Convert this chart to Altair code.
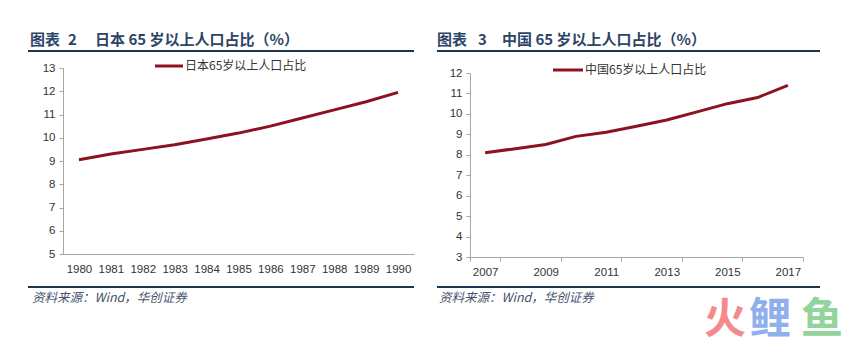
import altair as alt
import pandas as pd

# ---- data ----
jp_years = [1980, 1981, 1982, 1983, 1984, 1985, 1986, 1987, 1988, 1989, 1990]
jp_vals = [9.05, 9.3, 9.5, 9.7, 9.95, 10.2, 10.5, 10.85, 11.2, 11.55, 11.95]
cn_years = [2007, 2008, 2009, 2010, 2011, 2012, 2013, 2014, 2015, 2016, 2017]
cn_vals = [8.1, 8.3, 8.5, 8.9, 9.1, 9.4, 9.7, 10.1, 10.5, 10.8, 11.4]

jp_yticks = [5, 6, 7, 8, 9, 10, 11, 12, 13]
cn_yticks = [3, 4, 5, 6, 7, 8, 9, 10, 11, 12]
cn_xlabels = [2007, 2009, 2011, 2013, 2015, 2017]

title_prefix = "图表"
jp_fig_no = "2"
cn_fig_no = "3"
jp_title = "日本 65 岁以上人口占比（%）"
cn_title = "中国 65 岁以上人口占比（%）"
jp_legend = "日本65岁以上人口占比"
cn_legend = "中国65岁以上人口占比"
source_text = "资料来源：Wind，华创证券"
watermark = ["火", "鲤", "鱼"]
watermark_colors = ["#f48a8c", "#8fb0ec", "#92d49c"]

LINE = "#8c1220"
FONT = "Liberation Sans"
CJK = "Noto Sans CJK SC"
AXIS_GREY = "#a6a6a6"
LABEL = "#333333"
NAVY = "#1f3550"
TITLE_COLOR = "#2c4566"
SRC_COLOR = "#44546a"

one = pd.DataFrame({"k": [0]})


def decorations(fig_no, title, no_x, leg_x0, leg_x1, leg_y, rule_x0, rule_x1, text_x):
    base = alt.Chart(one)
    tstyle = dict(align="left", baseline="middle", font=CJK, fontSize=15,
                  fontWeight="bold", color=TITLE_COLOR)
    t1 = base.mark_text(**tstyle).encode(
        x=alt.value(text_x), y=alt.value(-28), text=alt.value(title_prefix))
    t2 = base.mark_text(**tstyle).encode(
        x=alt.value(no_x), y=alt.value(-28), text=alt.value(fig_no))
    t3 = base.mark_text(**tstyle).encode(
        x=alt.value(32), y=alt.value(-28), text=alt.value(title))
    top_rule = base.mark_rule(color=NAVY, strokeWidth=2).encode(
        x=alt.value(rule_x0), x2=alt.value(rule_x1), y=alt.value(-17))
    bottom_rule = base.mark_rule(color=NAVY, strokeWidth=2).encode(
        x=alt.value(rule_x0), x2=alt.value(rule_x1), y=alt.value(219))
    src = base.mark_text(align="left", baseline="middle", font=CJK, fontSize=12.5,
                         fontStyle="italic", color=SRC_COLOR).encode(
        x=alt.value(text_x + 2), y=alt.value(230), text=alt.value(source_text))
    leg_line = base.mark_rule(color=LINE, strokeWidth=3).encode(
        x=alt.value(leg_x0), x2=alt.value(leg_x1), y=alt.value(leg_y))
    leg_text = base.mark_text(align="left", baseline="middle", font=CJK, fontSize=12,
                              color=LABEL).encode(
        x=alt.value(leg_x1 + 2), y=alt.value(leg_y), text=alt.value(legend_text_map[fig_no]))
    return [t1, t2, t3, top_rule, bottom_rule, src, leg_line, leg_text]


legend_text_map = {jp_fig_no: jp_legend, cn_fig_no: cn_legend}

axis_common = dict(title=None, domainColor=AXIS_GREY, tickColor=AXIS_GREY,
                   labelColor=LABEL, labelFont=FONT, labelFontSize=11.5, grid=False)

# ---- left panel: Japan ----
jp_df = pd.DataFrame({"year": jp_years, "value": jp_vals})
jp_line = alt.Chart(jp_df).mark_line(color=LINE, strokeWidth=3).encode(
    x=alt.X("year:O", axis=alt.Axis(labelAngle=0, ticks=False, labelPadding=9,
                                     labelOverlap=False, **axis_common)),
    y=alt.Y("value:Q", scale=alt.Scale(domain=[5, 13], nice=False, zero=False),
            axis=alt.Axis(values=jp_yticks, tickSize=4, labelPadding=4, **axis_common)),
)
anchor_tl = alt.Chart(one).mark_rect(opacity=0).encode(
    x=alt.value(-63), x2=alt.value(-62), y=alt.value(-68), y2=alt.value(-67))
left = alt.layer(jp_line, anchor_tl,
                 *decorations(jp_fig_no, jp_title, 5, 92, 120, -2, -35, 351, -33)
                 ).properties(width=351, height=186)

# ---- right panel: China ----
cn_df = pd.DataFrame({"year": cn_years, "value": cn_vals})
cn_line = alt.Chart(cn_df).mark_line(color=LINE, strokeWidth=3).encode(
    x=alt.X("year:O", scale=alt.Scale(type="band", paddingInner=0, paddingOuter=0),
            axis=alt.Axis(values=cn_xlabels, labelAngle=0, tickBand="extent", tickExtra=False,
                          tickSize=4, labelPadding=5, labelOverlap=False, **axis_common)),
    y=alt.Y("value:Q", scale=alt.Scale(domain=[3, 12], range=[189, 5], nice=False, zero=False),
            axis=alt.Axis(values=cn_yticks, tickSize=4, labelPadding=4, **axis_common)),
)
wm_x = [255, 300, 352]
wm_layers = [
    alt.Chart(one).mark_text(align="center", baseline="middle", font=CJK, fontSize=42,
                             fontWeight="bold", color=c).encode(
        x=alt.value(xx), y=alt.value(252), text=alt.value(ch))
    for ch, c, xx in zip(watermark, watermark_colors, wm_x)
]
anchor_br = alt.Chart(one).mark_rect(opacity=0).encode(
    x=alt.value(394), x2=alt.value(395), y=alt.value(276), y2=alt.value(277))
right = alt.layer(cn_line, anchor_br,
                  *decorations(cn_fig_no, cn_title, 8, 83, 113, 2, -33, 350, -33),
                  *wm_layers
                  ).properties(width=333, height=189)

chart = alt.hconcat(left, right, spacing=56, bounds="flush").properties(
    padding=0, background="white"
).configure_view(stroke=None)

chart.save("out.html", embed_options={"renderer": "svg", "actions": False})
